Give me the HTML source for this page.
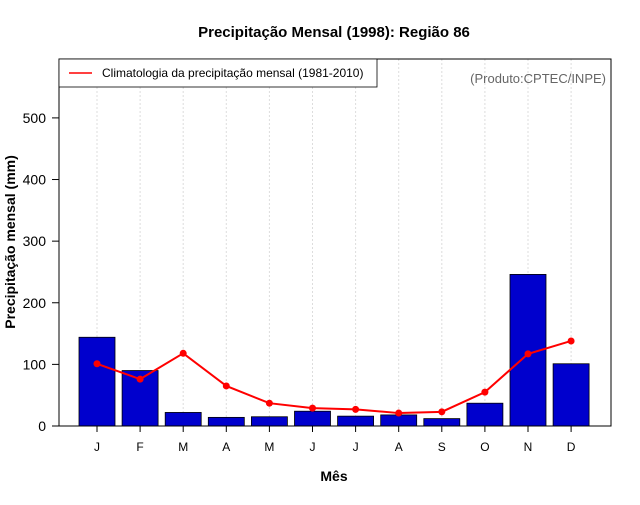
<!DOCTYPE html>
<html><head><meta charset="utf-8"><style>
body{margin:0;background:#fff;font-family:"Liberation Sans",sans-serif}
</style></head><body>
<svg id="c" width="640" height="500" xmlns="http://www.w3.org/2000/svg" font-family="Liberation Sans, sans-serif">
<rect width="640" height="500" fill="#fff"/>
<text x="334" y="37" text-anchor="middle" font-size="15" font-weight="bold">Precipitação Mensal (1998): Região 86</text>
<g id="grid"></g>
<g id="bars"></g>
<g id="line"></g>
<rect x="59" y="59" width="552" height="367" fill="none" stroke="#000"/>
<g id="yaxis"></g>
<g id="xaxis"></g>
<text x="334" y="481" text-anchor="middle" font-size="14" font-weight="bold">Mês</text>
<text transform="translate(15,242) rotate(-90)" text-anchor="middle" font-size="14" font-weight="bold">Precipitação mensal (mm)</text>
<g>
<rect x="59" y="59" width="318" height="28" fill="#fff" stroke="#000" stroke-width="0.8"/>
<line x1="69" y1="73" x2="92" y2="73" stroke="red" stroke-width="1.5"/>
<text x="102" y="77" font-size="12">Climatologia da precipitação mensal (1981-2010)</text>
</g>
<text x="606" y="83" text-anchor="end" font-size="13" fill="#666">(Produto:CPTEC/INPE)</text>
</svg>
<script>
const months=["J","F","M","A","M","J","J","A","S","O","N","D"];
const precip=[144,90,22,14,15,24,16,18,12,37,246,101];
const clim=[101,76,118,65,37,29,27,21,23,55,117,138];
const yTicks=[0,100,200,300,400,500];
const NS="http://www.w3.org/2000/svg";
const y=v=>426-v*0.6162;
const x=i=>97+i*43.1;
function mk(t,a,p){const e=document.createElementNS(NS,t);for(const k in a)e.setAttribute(k,a[k]);p.appendChild(e);return e;}
const G=document.getElementById('grid'),B=document.getElementById('bars'),L=document.getElementById('line'),YA=document.getElementById('yaxis'),XA=document.getElementById('xaxis');
months.forEach((m,i)=>{
 const g=mk('line',{x1:x(i),x2:x(i),y1:59,y2:426,stroke:'#ddd','stroke-dasharray':'2,2'},G);
 
 
 const r=mk('rect',{x:x(i)-18,y:y(precip[i]),width:36,height:426-y(precip[i]),fill:'#0000cd',stroke:'#000','stroke-width':0.8},B);
 
 
 const t=mk('text',{x:x(i),y:451,'text-anchor':'middle','font-size':12},XA);t.textContent=m;
 
 
 const tk=mk('line',{x1:x(i),x2:x(i),y1:426,y2:432,stroke:'#000'},XA);
 
 
});
const pl=mk('polyline',{points:clim.map((v,i)=>x(i)+','+y(v)).join(' '),fill:'none',stroke:'red','stroke-width':2},L);


clim.forEach((v,i)=>{const c=mk('circle',{cx:x(i),cy:y(v),r:3.5,fill:'red'},L);
 
 });
yTicks.forEach(v=>{
 const tk=mk('line',{x1:52,x2:59,y1:y(v),y2:y(v),stroke:'#000'},YA);
 
 
 const t=mk('text',{x:46,y:y(v)+5,'text-anchor':'end','font-size':14},YA);t.textContent=v;
 
 
});
</script>
</body></html>
